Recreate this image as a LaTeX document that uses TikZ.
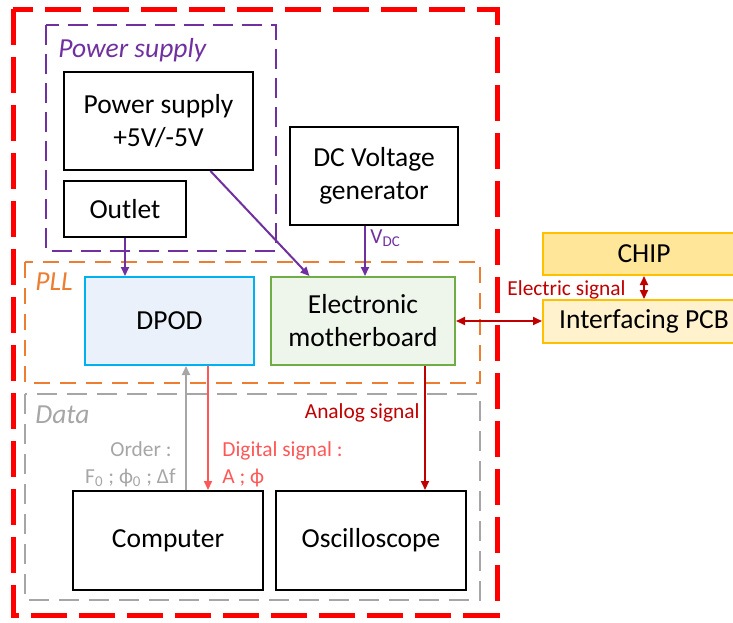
\documentclass[tikz,border=0pt]{standalone}
\usepackage{fontspec}
\setmainfont{Carlito}
\usetikzlibrary{positioning,arrows.meta,calc}

\definecolor{psupurple}{HTML}{7030A0}
\definecolor{pllorange}{HTML}{ED7D31}
\definecolor{datagray}{HTML}{A6A6A6}
\definecolor{sigdark}{HTML}{C00000}
\definecolor{siglight}{HTML}{FF5757}
\definecolor{dpodline}{HTML}{00B0F0}
\definecolor{dpodfill}{HTML}{EAF1FA}
\definecolor{moboline}{HTML}{70AD47}
\definecolor{mobofill}{HTML}{EEF5EA}
\definecolor{chipline}{HTML}{FFC000}
\definecolor{chipfill}{HTML}{FFE699}
\definecolor{pcbfill}{HTML}{FFF2CC}

\begin{document}
\begin{tikzpicture}[
        x=0.5pt, y=-0.5pt,
        unit/.style={draw, line width=1pt, align=center, inner sep=0pt, font=\fontsize{13.75}{16.5}\selectfont},
        grouplabel/.style={anchor=base west, inner sep=0pt, font=\fontsize{13.75}{16.5}\selectfont\itshape},
        siglabel/.style={inner sep=0pt, font=\fontsize{10.7}{13.5}\selectfont},
        arr/.tip={Triangle[length=4.5pt,width=4pt]},
        link/.style={line width=1pt, -arr}
    ]
        \path[use as bounding box] (0,0) rectangle (733,622);
        \clip (0,0) rectangle (733,622);

        % groups
        \draw[psupurple, line width=1pt, dash pattern=on 10pt off 4.5pt] (46,25) rectangle (276,251);
        \draw[pllorange, line width=1.2pt, dash pattern=on 8pt off 5pt] (25,262) rectangle (480,383);
        \draw[datagray, line width=1.2pt, dash pattern=on 10pt off 5pt] (25,394) rectangle (480,600);
        \node[grouplabel, text=psupurple] (psulabel) at (58,57) {Power supply};
        \node[grouplabel, text=pllorange] (plllabel) at (35,290) {PLL};
        \node[grouplabel, text=datagray] (datalabel) at (35,423) {Data};

        % blocks
        \node[unit, minimum width=94.5pt, minimum height=49pt] (psu) at (158.5,121) {Power supply\\+5V/-5V};
        \node[unit, minimum width=61pt, minimum height=28pt] (outlet) at (125,209) {Outlet};
        \node[unit, minimum width=84pt, minimum height=49pt] (dcgen) at (374,176) {DC Voltage\\generator};
        \node[unit, draw=dpodline, fill=dpodfill, minimum width=84.5pt, minimum height=44pt] (dpod) at (169.5,321) {DPOD};
        \node[unit, draw=moboline, fill=mobofill, minimum width=92pt, minimum height=44pt] (mobo) at (363,321) {Electronic\\motherboard};
        \node[unit, minimum width=95pt, minimum height=49.5pt] (computer) at (168,540.5) {Computer};
        \node[unit, minimum width=95pt, minimum height=49.5pt] (scope) at (371,540.5) {Oscilloscope};
        \node[unit, draw=chipline, fill=chipfill, minimum width=101pt, minimum height=21pt] (chip) at (644,254) {CHIP};
        \node[unit, draw=chipline, fill=pcbfill, minimum width=101pt, minimum height=21.5pt] (pcb) at (644,321.5) {Interfacing PCB};

        % power links
        \draw[link, psupurple] (outlet.south) -- (outlet.south |- dpod.north);
        \draw[link, psupurple] ($(psu.south west)!0.772!(psu.south east)$) -- ($(mobo.north west)!0.212!(mobo.north east)$);
        \draw[link, psupurple] ([xshift=-4.5pt]dcgen.south) coordinate (vdc) -- (vdc |- mobo.north);
        \node[siglabel, anchor=base west, text=psupurple] (vdclabel) at (370,243) {V\textsubscript{DC}};

        % signals
        \draw[line width=1pt, sigdark, arr-arr] (mobo.east) -- (mobo.east -| pcb.west);
        \draw[line width=1pt, sigdark, arr-arr] (chip.south) -- (pcb.north);
        \node[siglabel, anchor=base west, text=sigdark] (eleclabel) at (507,295) {Electric signal};

        \draw[link, sigdark] ([xshift=31pt]mobo.south) coordinate (ana) -- (ana |- scope.north);
        \node[siglabel, anchor=base east, text=sigdark] (analabel) at (420,418) {Analog signal};

        \draw[link, siglight] ([xshift=19.25pt]dpod.south) coordinate (digi) -- (digi |- computer.north);
        \node[siglabel, anchor=base west, text=siglight] (digilabel) at (222,456) {Digital signal :};
        \node[siglabel, anchor=base west, text=siglight] (digivals) at (222,483) {A ; ϕ};

        \draw[link, datagray] ([xshift=9pt]computer.north) coordinate (ord) -- (ord |- dpod.south);
        \node[siglabel, anchor=base east, text=datagray] (ordlabel) at (172,456) {Order :};
        \node[siglabel, anchor=base east, text=datagray] (ordvals) at (176,483) {F\textsubscript{0} ; ϕ\textsubscript{0} ; Δf};

        % frame
        \draw[red, line width=2.5pt, dash pattern=on 18pt off 6pt] (13,9) rectangle (497,615);
    \end{tikzpicture}
\end{document}
